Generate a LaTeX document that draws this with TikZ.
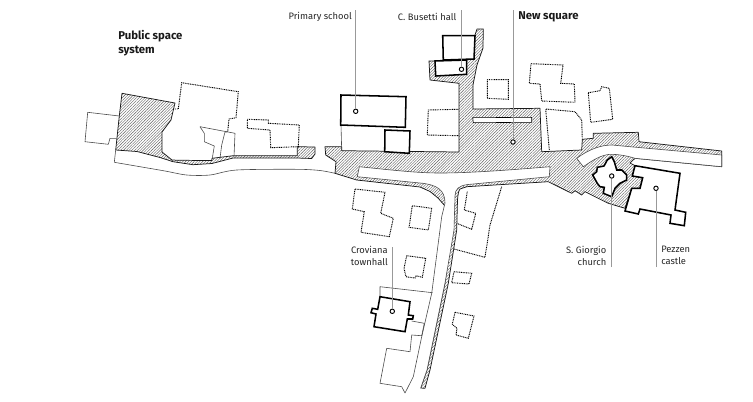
\documentclass[tikz,border=0pt]{standalone}
\usepackage{fontspec}
\setmainfont{Fira Sans}
\usetikzlibrary{patterns.meta}
\tikzset{
  hatched/.style={pattern={Lines[angle=45,distance=1.5pt,line width=0.3pt]},pattern color=black!65,draw=black!90,line width=0.55pt,line join=round},
  roadway/.style={fill=white,draw=black!70,line width=0.45pt,line join=round},
  bld/.style={fill=white,draw=black,line width=1.15pt,line join=miter},
  dotbld/.style={draw=black,line width=0.7pt,dash pattern=on 0.7pt off 0.6pt},
  parcel/.style={draw=black!70,line width=0.45pt,line join=round},
  leader/.style={draw=black!40,line width=0.7pt},
  pin/.style={circle,draw=black,fill=white,line width=0.7pt,inner sep=0pt,minimum size=3.3pt},
  lab/.style={font=\fontsize{7pt}{9pt}\selectfont,inner sep=0pt,text=black!85},
  tit/.style={font=\fontsize{8.5pt}{10.5pt}\selectfont\bfseries,inner sep=0pt,text=black!90},
}
\begin{document}
\begin{tikzpicture}[x=0.75pt,y=-0.75pt]
\useasboundingbox (0,0) rectangle (753,401);
% West square and its strip
\draw[hatched] (122,93.3)--(175,103)--(171,120)--(162,132)--(162,152)--(172,160)--(180,160.3)--(211.7,160.5)--(212,158.3)--(233.3,155.7)--(297.3,155.7)--(297.3,146.7)--(315,147)--(315,154)--(311.7,158.5)--(297,158)--(233,158)--(212,163.5)--(193,164.7)--(173,161.7)--(160,157.5)--(137,151.5)--(115.7,150)--(119.3,116)--cycle;
\draw[parcel] plot[smooth,tension=0.5] coordinates {(115.7,150) (114.3,162.3)};
\draw[parcel] plot[smooth,tension=0.5] coordinates {(114.3,162.3) (140,166.7) (165,171) (186.7,175) (210,175) (236.7,170) (296.7,169.3) (320,170.5) (335,173.3)};
% Main square
\draw[hatched] (325,146.7)--(341.7,146.7)--(341.7,150.7)--(459,152)--(459,83.3)--(430,80)--(429,61)--(435,61)--(443,60)--(475,35)--(477,29)--(483.3,29)--(483,48)--(477,65)--(473,85)--(473,109)--(540,108.3)--(541.7,151.7)--(581.7,150)--(582.3,139.3)--(593.3,138.3)--(593.3,133.3)--(638.3,132.3)--(639,141.7)--(721.7,151)--(721.7,166.7)--(635,158.3)--(630,163)--(635,165.7)--(632.3,176)--(642.7,177.7)--(640,188.3)--(631.7,188.3)--(625,208.3)--(608.3,203.3)--(585,191.7)--(581.7,195)--(575,190.7)--(571.7,193.3)--(548.3,181.7)--(466.7,186.7)--(460,189) .. controls (458.5,191) and (458,194) .. (457.5,200)--(456.7,230)--(448.3,283.3)--(430,370)--(425,388.3)--(420.7,388)--(427,370)--(445,283)--(452,230)--(454,200)--(445,206)--(438,198)--(430,191.5)--(420,187)--(356.7,180)--(335,173.3)--(336,161.7)--(325.7,155)--cycle;
% White T of the roads, open at its south end
\draw[roadway] (420.7,388)--(427,370)--(445,283)--(454,230)--(455,196) .. controls (455,189) and (459,185.5) .. (468,184.5)--(549.3,176.7)--(550,166.7) .. controls (510,170) and (470,173) .. (440,173) .. controls (420,173) and (400,171) .. (359.3,166.7)--(357.3,176.7)--(420,183) .. controls (437,184.5) and (445,190) .. (445,203)--(441.7,216.7)--(431.7,293.3)--(421.7,336.7)--(413.3,376.7)--(405,393);
% East road
\draw[roadway] (576.7,158.3) .. controls (588,150) and (600,145) .. (612,145)--(630,146.7)--(721.7,155)--(721.7,166.7)--(635,158.3) .. controls (626,155.5) and (618,154.3) .. (610,154.3) .. controls (601,155) and (593,160) .. (583.3,166.7)--cycle;
% Plaza bar
\draw[roadway,draw=black] (472.7,117.7)--(531.7,117.3)--(531.7,122.3)--(473.3,122.7)--cycle;
% Parcel lines
\draw[parcel] (405,393)--(401.7,386.7)--(380,383.3)--(386.7,348.3)--(410,351.7)--(411.7,335)--(421.7,335.7)--(424.3,323.3)--(411.7,321);
\draw[parcel] (380,296.7)--(380,286.7)--(432.7,292.7);
\draw[parcel] (341,125)--(341.7,150.7);
% West buildings
\draw[parcel] (119.3,116)--(87.7,112.3)--(85,141.7)--(108.3,144.3)--(110,138.3)--(116.7,138.3);
\draw[dotbld] (173.3,109)--(178.3,109)--(181.7,82.7)--(238.3,91.7)--(236,117.7)--(229,119)--(227.7,131.7)--(225,132);
\draw[parcel] (225,132)--(221.7,145)--(220,158.3);
\draw[parcel] (200,126.7)--(235,133.3)--(234,156.7);
\draw[parcel] (200,126.7)--(204.3,133.3)--(204.3,141.7)--(214.3,146)--(212.3,158.3);
\draw[dotbld] (247.3,119.3)--(268.3,120)--(268.3,123.3)--(299.3,125)--(298.3,146.7)--(270.7,147.7)--(270,130)--(247.3,128.3)--cycle;
% North buildings
\draw[bld] (341,95)--(406,96.7)--(405.3,127.3)--(340.7,125)--cycle;
\draw[bld] (385,130)--(410,131)--(409.3,153.3)--(384.7,151.7)--cycle;
\draw[bld] (442.7,35.7)--(475,35.7)--(474,59)--(443.3,60)--cycle;
\draw[bld] (435,61)--(466.7,60)--(466.7,74.3)--(435.7,76)--cycle;
\draw[dotbld] (458.3,109.3)--(428.3,110)--(427.3,135)--(459,135.7);
\draw[dotbld] (487.3,79.7)--(508.3,79.7)--(508.3,99.3)--(487.3,98.3)--cycle;
\draw[dotbld] (531,63.7)--(563,65)--(560.7,83.3)--(574.3,84)--(575,102.3)--(541.7,101)--(540,84)--(529.3,83.3)--cycle;
\draw[dotbld] (549.3,150)--(545.7,109)--(575,111.7)--(581.7,120)--(582.3,139.3);
\draw[dotbld] (588.3,92.7)--(600,90.7)--(601.7,86.7)--(609.3,88.3)--(612.7,119.3)--(590.7,122.3)--cycle;
% South buildings
\draw[dotbld] (355,189)--(385,192.3)--(380.7,213.3)--(393.3,218.3)--(389.3,236.7)--(361,232.3)--(364.3,211.7)--(352.3,209)--cycle;
\draw[dotbld] (412.3,205.7)--(431.7,208.3)--(428.3,230)--(409,227.3)--cycle;
\draw[dotbld] (406.7,255.7)--(425.7,258.3)--(422.3,277.3)--(416,275.7)--(415,278)--(406,276.7)--(404,268.3)--cycle;
\draw[dotbld] (454,271.7)--(471.7,273.3)--(469,284)--(451.7,282.7)--cycle;
\draw[dotbld] (455,312.3)--(474,316)--(468.3,338.3)--(456,335)--(457,328.3)--(452.3,324.3)--cycle;
\draw[dotbld] (501.7,186.7)--(490,225)--(485,257.3)--(454,249);
\draw[dotbld] (467.3,191.7)--(464.3,210)--(475.7,213.3)--(471.7,229.3)--(456.7,223.3);
\draw[bld] (380,296.7)--(410,301.7)--(408.3,315)--(413.3,315.7)--(412.7,319)--(407.3,319)--(405,331.7)--(374,326.7)--(376,314)--(371,312.7)--(372.3,308.3)--(377.7,309.3)--cycle;
% East buildings
\draw[bld] (611.7,156.7)--(614.3,161.7)--(616.7,170)--(621.7,170)--(626.7,175)--(626.7,180)--(620,183.3)--(615,188.3)--(611.7,196.7)--(603.3,193.3)--(604.3,187.3)--(600,186.7)--(597.3,183.3)--(592.7,175)--(596.7,171.7)--(597.3,167.3)--(604,166)--(607.3,160)--cycle;
\draw[bld] (635,165.7)--(680,173.3)--(675,210)--(685.7,212.3)--(684.3,225.7)--(670,223.3)--(671,215)--(640,209)--(638.3,214)--(625,211)--(631.7,188.3)--(640,188.3)--(642.7,177.7)--(632.3,176)--cycle;
% Pins
\node[pin] (pschool) at (355.7,111.3) {};
\node[pin] (phall) at (461.5,69.3) {};
\node[pin] (psquare) at (513,142) {};
\node[pin] (ptown) at (392.3,311.3) {};
\node[pin] (pchurch) at (611.7,176) {};
\node[pin] (pcastle) at (656,188.3) {};
% Leader ends
\coordinate (eschool) at (355.7,10);
\coordinate (ehall) at (461.5,10);
\coordinate (esquare) at (513,10);
\coordinate (etown) at (392.3,247);
\coordinate (echurch) at (611.7,267);
\coordinate (ecastle) at (656,267);
\draw[leader] (eschool)--(pschool);
\draw[leader] (ehall)--(phall);
\draw[leader] (esquare)--(psquare);
\draw[leader] (etown)--(ptown);
\draw[leader] (echurch)--(pchurch);
\draw[leader] (ecastle)--(pcastle);
% Labels
\node[tit,anchor=north west,align=left] (ltitle) at (118,30.5) {Public space\\system};
\node[lab,anchor=east] (lschool) at (352,16.5) {Primary school};
\node[lab,anchor=east] (lhall) at (456.5,16.5) {C. Busetti hall};
\node[tit,anchor=west] (lsquare) at (518,16.5) {New square};
\node[lab,anchor=north east,align=right] (ltown) at (388,246) {Croviana\\townhall};
\node[lab,anchor=north east,align=right] (lchurch) at (606.5,245.5) {S. Giorgio\\church};
\node[lab,anchor=north west,align=left] (lcastle) at (661,245.5) {Pezzen\\castle};
\end{tikzpicture}
\end{document}
